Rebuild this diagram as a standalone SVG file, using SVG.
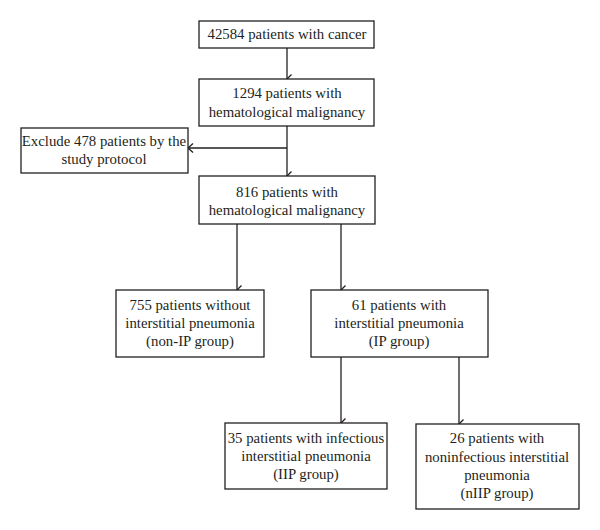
<svg xmlns="http://www.w3.org/2000/svg" width="600" height="530" viewBox="0 0 600 530">
<style>
.box{fill:#fff;stroke:#231f20;stroke-width:1.3}
.ln{fill:none;stroke:#231f20;stroke-width:1.3}
text{font-family:"Liberation Serif","Times New Roman",serif;font-size:14.8px;fill:#231f20;text-anchor:middle}
</style>
<defs>
<marker id="ah" viewBox="0 0 12 10" refX="6" refY="9" markerWidth="12" markerHeight="10" markerUnits="userSpaceOnUse" orient="auto-start-reverse">
<path d="M1.5,4.5 L6,9 L10.5,4.5" fill="none" stroke="#231f20" stroke-width="1.3"/>
</marker>
</defs>
<g id="connectors">
<line class="ln" x1="287" y1="48" x2="287" y2="79" marker-end="url(#ah)"/>
<line class="ln" x1="287" y1="126" x2="287" y2="176" marker-end="url(#ah)"/>
<line class="ln" x1="287" y1="148" x2="188" y2="148"/>
<path class="ln" d="M193,143.5 L188,148 L193,152.5"/>
<line class="ln" x1="237" y1="224" x2="237" y2="290" marker-end="url(#ah)"/>
<line class="ln" x1="341" y1="224" x2="341" y2="290" marker-end="url(#ah)"/>
<line class="ln" x1="341" y1="357" x2="341" y2="423" marker-end="url(#ah)"/>
<line class="ln" x1="459" y1="357" x2="459" y2="424" marker-end="url(#ah)"/>
</g>
<g id="n1">
<rect class="box" x="199" y="21" width="175" height="27"/>
<text x="287" y="39">42584 patients with cancer</text>
</g>
<g id="n2">
<rect class="box" x="199" y="79" width="175" height="47"/>
<text x="287" y="98">1294 patients with</text>
<text x="287" y="117">hematological malignancy</text>
</g>
<g id="n3">
<rect class="box" x="21" y="128" width="167" height="45"/>
<text x="104" y="146">Exclude 478 patients by the</text>
<text x="104" y="164">study protocol</text>
</g>
<g id="n4">
<rect class="box" x="199" y="176" width="176" height="48"/>
<text x="287" y="197">816 patients with</text>
<text x="287" y="215">hematological malignancy</text>
</g>
<g id="n5">
<rect class="box" x="116" y="290" width="148" height="67"/>
<text x="190" y="310">755 patients without</text>
<text x="190" y="328">interstitial pneumonia</text>
<text x="190" y="346">(non-IP group)</text>
</g>
<g id="n6">
<rect class="box" x="311" y="290" width="177" height="67"/>
<text x="399" y="310">61 patients with</text>
<text x="399" y="328">interstitial pneumonia</text>
<text x="399" y="346">(IP group)</text>
</g>
<g id="n7">
<rect class="box" x="225" y="423" width="162" height="66"/>
<text x="306" y="443">35 patients with infectious</text>
<text x="306" y="461">interstitial pneumonia</text>
<text x="306" y="479">(IIP group)</text>
</g>
<g id="n8">
<rect class="box" x="416" y="424" width="163" height="85"/>
<text x="497" y="443">26 patients with</text>
<text x="497" y="462">noninfectious interstitial</text>
<text x="497" y="480">pneumonia</text>
<text x="497" y="498">(nIIP group)</text>
</g>
</svg>
